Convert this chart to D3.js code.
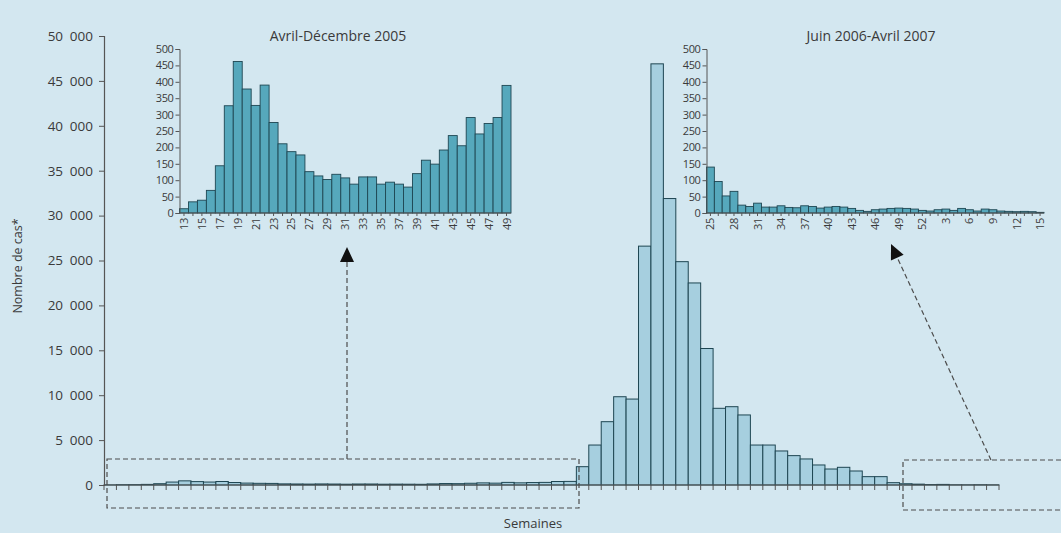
<!DOCTYPE html>
<html>
<head>
<meta charset="utf-8">
<script src="https://cdn.jsdelivr.net/npm/d3@7"></script>
<style>
  html, body { margin: 0; padding: 0; background: #d3e7f0; }
  svg { display: block; }
  text { font-family: "Open Sans", "Noto Sans", sans-serif; fill: #3a3a3a; }
</style>
</head>
<body>
<svg id="chart" width="1061" height="533"></svg>
<script>
// Weekly case counts, April 2005 (week 13) to December 2005 (week 49)
const weeks2005Inset = [13, 14, 15, 16, 17, 18, 19, 20, 21, 22, 23, 24, 25, 26, 27, 28, 29, 30, 31,
  32, 33, 34, 35, 36, 37, 38, 39, 40, 41, 42, 43, 44, 45, 46, 47, 48, 49];
const cases2005Inset = [13, 34, 39, 69, 144, 327, 462, 378, 328, 390, 276, 211, 187, 177, 126, 113,
  102, 118, 107, 88, 110, 110, 88, 94, 88, 79, 120, 161, 149, 192, 236, 205, 291, 241, 273, 291, 389];

// End of 2005 (weeks 50-52)
const weeksLate2005 = [50, 51, 52];
const casesLate2005 = [400, 2040, 4450];

// 2006, weeks 1-32
const weeks2006 = [1, 2, 3, 4, 5, 6, 7, 8, 9, 10, 11, 12, 13, 14, 15, 16, 17, 18, 19, 20, 21, 22,
  23, 24, 25, 26, 27, 28, 29, 30, 31, 32];
const cases2006 = [7050, 9830, 9570, 26600, 46900, 31900, 24870, 22500, 15200, 8540, 8720, 7800,
  4450, 4450, 3790, 3270, 2900, 2230, 1780, 1970, 1560, 930, 930, 260, 140, 96, 52, 66, 24, 20, 30, 18];

// June 2006 (week 25) to April 2007 (week 15)
const weeksInset2 = [25, 26, 27, 28, 29, 30, 31, 32, 33, 34, 35, 36, 37, 38, 39, 40, 41, 42, 43, 44,
  45, 46, 47, 48, 49, 50, 51, 52, 1, 2, 3, 4, 5, 6, 7, 8, 9, 10, 11, 12, 13, 14, 15];
const yearsInset2 = [2006, 2006, 2006, 2006, 2006, 2006, 2006, 2006, 2006, 2006, 2006, 2006, 2006,
  2006, 2006, 2006, 2006, 2006, 2006, 2006, 2006, 2006, 2006, 2006, 2006, 2006, 2006, 2006,
  2007, 2007, 2007, 2007, 2007, 2007, 2007, 2007, 2007, 2007, 2007, 2007, 2007, 2007, 2007];
const casesInset2 = [140, 96, 52, 66, 24, 20, 30, 18, 18, 22, 17, 16, 22, 20, 15, 18, 20, 18, 14, 8,
  5, 10, 12, 14, 15, 14, 12, 8, 6, 10, 12, 8, 14, 10, 6, 12, 10, 6, 5, 4, 5, 4, 2];

// Axis ticks
const mainYTicks = [0, 5000, 10000, 15000, 20000, 25000, 30000, 35000, 40000, 45000, 50000];
const insetYTicks = [0, 50, 100, 150, 200, 250, 300, 350, 400, 450, 500];
const inset1Labels = [13, 15, 17, 19, 21, 23, 25, 27, 29, 31, 33, 35, 37, 39, 41, 43, 45, 47, 49];
const inset2LabelIdx = [0, 3, 6, 9, 12, 15, 18, 21, 24, 27, 30, 33, 36, 39, 42];

const titles = ["Avril-Décembre 2005", "Juin 2006-Avril 2007"];
const yTitle = "Nombre de cas*";
const xTitle = "Semaines";

// ---- build series ----
const mainData = []
  .concat(weeks2005Inset.map((w, i) => ({ key: "2005-" + w, v: cases2005Inset[i] })))
  .concat(weeksLate2005.map((w, i) => ({ key: "2005-" + w, v: casesLate2005[i] })))
  .concat(weeks2006.map((w, i) => ({ key: "2006-" + w, v: cases2006[i] })));
const inset1Data = weeks2005Inset.map((w, i) => ({ key: String(w), w, v: cases2005Inset[i] }));
const inset2Data = weeksInset2.map((w, i) => ({ key: yearsInset2[i] + "-" + w, w, v: casesInset2[i] }));

const svg = d3.select("#chart");
const C = {
  bg: "#d3e7f0",
  mainFill: "#a6cfdf",
  insetFill: "#56a8bc",
  stroke: "#1e4652",
  axis: "#555",
  dash: "#4d4d4d"
};

const fmt = d3.formatLocale({ decimal: ",", thousands: "\u2002", grouping: [3], currency: ["", "€"] }).format(",d");

// ---- main chart ----
const x = d3.scaleBand().domain(mainData.map(d => d.key)).range([104, 999]).padding(0);
const y = d3.scaleLinear().domain([0, 50000]).range([485, 36]);

svg.append("g").selectAll("rect").data(mainData).join("rect")
  .attr("x", d => x(d.key))
  .attr("y", d => y(d.v))
  .attr("width", x.bandwidth())
  .attr("height", d => y(0) - y(d.v))
  .attr("fill", C.mainFill)
  .attr("stroke", C.stroke)
  .attr("stroke-width", 1);

const yAxis = svg.append("g").attr("transform", "translate(104,0)")
  .call(d3.axisLeft(y).tickValues(mainYTicks).tickSize(5).tickPadding(6).tickFormat(fmt));
yAxis.select(".domain").attr("stroke", C.axis).attr("stroke-width", 1.2);
yAxis.selectAll(".tick line").attr("stroke", C.axis);
yAxis.selectAll(".tick text").attr("font-size", 13.5).attr("fill", "#3a3a3a")
  .attr("font-family", "'Open Sans', sans-serif");

// x baseline with a tick at every week boundary
const edges = mainData.map(d => x(d.key)).concat([x.range()[1]]);
const xg = svg.append("g");
xg.append("line").attr("x1", 104).attr("x2", 999).attr("y1", y(0)).attr("y2", y(0))
  .attr("stroke", C.axis).attr("stroke-width", 1.2);
xg.selectAll("line.t").data(edges).join("line").attr("class", "t")
  .attr("x1", d => d).attr("x2", d => d).attr("y1", y(0)).attr("y2", y(0) + 5)
  .attr("stroke", C.axis);

svg.append("text").attr("transform", "translate(22,266) rotate(-90)")
  .attr("text-anchor", "middle").attr("font-size", 12.5).text(yTitle);
svg.append("text").attr("x", 533).attr("y", 528)
  .attr("text-anchor", "middle").attr("font-size", 13).text(xTitle);

// ---- insets ----
function drawInset(data, x0, x1, labelFilter, title, titleX) {
  const xi = d3.scaleBand().domain(data.map(d => d.key)).range([x0, x1]).padding(0);
  const yi = d3.scaleLinear().domain([0, 500]).range([213, 49]);
  const g = svg.append("g");
  g.selectAll("rect").data(data).join("rect")
    .attr("x", d => xi(d.key))
    .attr("y", d => yi(d.v))
    .attr("width", xi.bandwidth())
    .attr("height", d => yi(0) - yi(d.v))
    .attr("fill", C.insetFill)
    .attr("stroke", C.stroke)
    .attr("stroke-width", 0.9);
  const ya = g.append("g").attr("transform", `translate(${x0},0)`)
    .call(d3.axisLeft(yi).tickValues(insetYTicks).tickSize(4).tickPadding(2));
  ya.select(".domain").attr("stroke", C.axis);
  ya.selectAll(".tick line").attr("stroke", C.axis);
  ya.selectAll(".tick text").attr("font-size", 11).attr("fill", "#3a3a3a")
    .attr("font-family", "'Open Sans', sans-serif").attr("letter-spacing", -0.4);
  g.append("line").attr("x1", x0).attr("x2", x1).attr("y1", yi(0)).attr("y2", yi(0))
    .attr("stroke", C.axis);
  g.selectAll("line.t").data(data).join("line").attr("class", "t")
    .attr("x1", d => xi(d.key) + xi.bandwidth() / 2).attr("x2", d => xi(d.key) + xi.bandwidth() / 2)
    .attr("y1", yi(0)).attr("y2", yi(0) + 3).attr("stroke", C.axis);
  g.selectAll("text.xl").data(data.filter(labelFilter)).join("text").attr("class", "xl")
    .attr("transform", d => `translate(${xi(d.key) + xi.bandwidth() / 2 + 4},${yi(0) + 5}) rotate(-90)`)
    .attr("text-anchor", "end").attr("font-size", 11).attr("letter-spacing", -0.3)
    .text(d => d.w);
  svg.append("text").attr("x", titleX).attr("y", 41).attr("text-anchor", "middle")
    .attr("font-size", 14).text(title);
}

drawInset(inset1Data, 179.5, 511, d => inset1Labels.includes(d.w), titles[0], 338);
drawInset(inset2Data, 706.5, 1044, (d, i) => inset2LabelIdx.includes(inset2Data.indexOf(d)), titles[1], 871);

// ---- zoom boxes and arrows ----
const dash = "5,3";
const ov = svg.append("g").attr("fill", "none").attr("stroke", C.dash).attr("stroke-width", 1.2)
  .attr("stroke-dasharray", dash);
ov.append("rect").attr("x", 107).attr("y", 459).attr("width", 472).attr("height", 49);
ov.append("path").attr("d", "M1061,460 H903 V510 H1061");
ov.append("line").attr("x1", 347).attr("y1", 459).attr("x2", 347).attr("y2", 262);

const tipR = [891, 244], startR = [991, 460];
ov.append("line").attr("x1", startR[0]).attr("y1", startR[1]).attr("x2", tipR[0] + 6).attr("y2", tipR[1] + 13);

function arrowHead(tip, from, len, half) {
  const dx = tip[0] - from[0], dy = tip[1] - from[1];
  const L = Math.hypot(dx, dy), ux = dx / L, uy = dy / L;
  const bx = tip[0] - ux * len, by = tip[1] - uy * len;
  return `M${tip[0]},${tip[1]} L${bx - uy * half},${by + ux * half} L${bx + uy * half},${by - ux * half} Z`;
}
svg.append("path").attr("d", arrowHead([347, 247], [347, 459], 15, 7)).attr("fill", "#111");
svg.append("path").attr("d", arrowHead(tipR, startR, 15, 7)).attr("fill", "#111");
</script>
</body>
</html>
